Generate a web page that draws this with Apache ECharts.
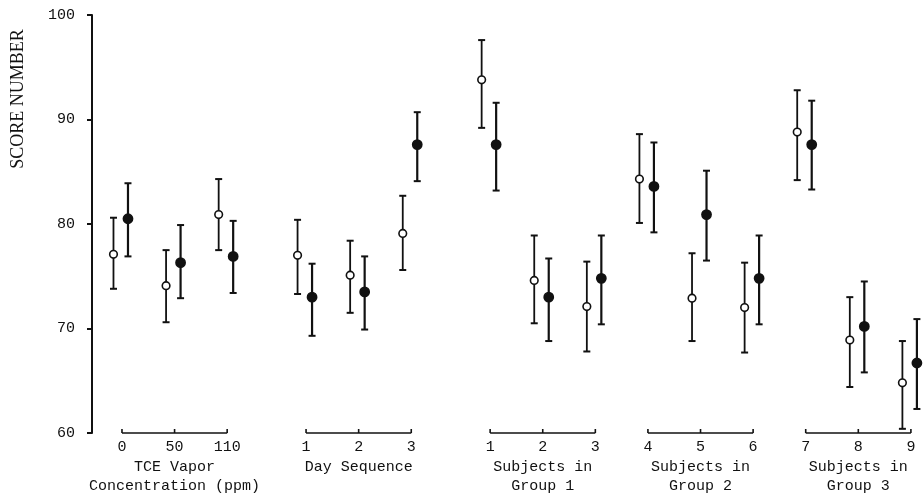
<!DOCTYPE html>
<html>
<head>
<meta charset="utf-8">
<script src="https://cdn.jsdelivr.net/npm/echarts@6/dist/echarts.min.js"></script>
<style>
html,body{margin:0;padding:0;background:#fff;}
#chart{width:923px;height:497px;}
</style>
</head>
<body>
<div id="chart"></div>
<script>
// ---- data ----
const groupTitles = [
  ["TCE Vapor", "Concentration (ppm)"],
  ["Day Sequence"],
  ["Subjects in", "Group 1"],
  ["Subjects in", "Group 2"],
  ["Subjects in", "Group 3"]
];
const tickLabels = [
  ["0", "50", "110"],
  ["1", "2", "3"],
  ["1", "2", "3"],
  ["4", "5", "6"],
  ["7", "8", "9"]
];
// x value of the first category of each group (half-slot units), categories 2 units apart
const groupStart = [0, 7, 14, 20, 26];
const yTicks = [60, 70, 80, 90, 100];

const openMean = [77.1, 74.1, 80.9, 77.0, 75.1, 79.1, 93.8, 74.6, 72.1, 84.3, 72.9, 72.0, 88.8, 68.9, 64.8];
const openLow  = [73.8, 70.6, 77.5, 73.3, 71.5, 75.6, 89.2, 70.5, 67.8, 80.1, 68.8, 67.7, 84.2, 64.4, 60.4];
const openHigh = [80.6, 77.5, 84.3, 80.4, 78.4, 82.7, 97.6, 78.9, 76.4, 88.6, 77.2, 76.3, 92.8, 73.0, 68.8];

const filledMean = [80.5, 76.3, 76.9, 73.0, 73.5, 87.6, 87.6, 73.0, 74.8, 83.6, 80.9, 74.8, 87.6, 70.2, 66.7];
const filledLow  = [76.9, 72.9, 73.4, 69.3, 69.9, 84.1, 83.2, 68.8, 70.4, 79.2, 76.5, 70.4, 83.3, 65.8, 62.3];
const filledHigh = [83.9, 79.9, 80.3, 76.2, 76.9, 90.7, 91.6, 76.7, 78.9, 87.8, 85.1, 78.9, 91.8, 74.5, 70.9];

// ---- build ----
const catX = [];
groupStart.forEach((s, g) => tickLabels[g].forEach((_, i) => catX.push(s + 2 * i)));

const openData = catX.map((x, i) => [x, openMean[i], openLow[i], openHigh[i]]);
const filledData = catX.map((x, i) => [x, filledMean[i], filledLow[i], filledHigh[i]]);
const bracketData = groupStart.map((s, g) => [s, s + 2 * (tickLabels[g].length - 1), g]);

const INK = '#111';
const MONO = '"Liberation Mono", "DejaVu Sans Mono", monospace';

function errRender(offset, filled) {
  return function (params, api) {
    const x0 = api.value(0);
    const c = api.coord([x0, api.value(1)]);
    const lo = api.coord([x0, api.value(2)]);
    const hi = api.coord([x0, api.value(3)]);
    const x = c[0] + offset;
    const cap = 3.5;
    const lw = filled ? 2.2 : 1.8;
    return {
      type: 'group',
      children: [
        { type: 'line', shape: { x1: x, y1: hi[1], x2: x, y2: lo[1] }, style: { stroke: INK, lineWidth: lw } },
        { type: 'line', shape: { x1: x - cap, y1: hi[1], x2: x + cap, y2: hi[1] }, style: { stroke: INK, lineWidth: 2 } },
        { type: 'line', shape: { x1: x - cap, y1: lo[1], x2: x + cap, y2: lo[1] }, style: { stroke: INK, lineWidth: 2 } },
        { type: 'circle', shape: { cx: x, cy: c[1], r: filled ? 4.6 : 3.8 },
          style: { fill: filled ? INK : '#fff', stroke: INK, lineWidth: 1.6 } }
      ]
    };
  };
}

function bracketRender(params, api) {
  const a = api.value(0), b = api.value(1), g = api.value(2);
  const p0 = api.coord([a, 60]);
  const p1 = api.coord([b, 60]);
  const y = p0[1];
  const children = [
    { type: 'line', shape: { x1: p0[0], y1: y, x2: p1[0], y2: y }, style: { stroke: INK, lineWidth: 1.6 } }
  ];
  tickLabels[g].forEach((lab, i) => {
    const px = api.coord([a + 2 * i, 60])[0];
    children.push({ type: 'line', shape: { x1: px, y1: y, x2: px, y2: y - 4 }, style: { stroke: INK, lineWidth: 1.6 } });
    children.push({ type: 'text', style: { text: lab, x: px, y: y + 14, align: 'center', verticalAlign: 'middle',
      fill: INK, fontSize: 15, fontFamily: MONO } });
  });
  const cx = (p0[0] + p1[0]) / 2;
  groupTitles[g].forEach((t, j) => {
    children.push({ type: 'text', style: { text: t, x: cx, y: y + 34 + 19.5 * j, align: 'center', verticalAlign: 'middle',
      fill: INK, fontSize: 15, fontFamily: MONO } });
  });
  return { type: 'group', children };
}

const chart = echarts.init(document.getElementById('chart'), null, { renderer: 'canvas' });
chart.setOption({
  backgroundColor: '#fff',
  animation: false,
  grid: { left: 92, right: 0, top: 15, bottom: 64 },
  xAxis: {
    type: 'value', min: -1.14, max: 30.46,
    show: false
  },
  yAxis: {
    type: 'value', min: yTicks[0], max: yTicks[yTicks.length - 1], interval: 10,
    axisLine: { show: true, onZero: false, lineStyle: { color: INK, width: 2 } },
    axisTick: { show: true, length: 5, lineStyle: { color: INK, width: 2 } },
    axisLabel: { color: INK, fontSize: 15, fontFamily: MONO, margin: 17 },
    splitLine: { show: false }
  },
  graphic: [{
    type: 'text', x: 18, y: 99, rotation: Math.PI / 2,
    style: { text: 'SCORE NUMBER', align: 'center', verticalAlign: 'middle', fill: INK,
      fontSize: 18, fontFamily: '"Liberation Serif", "DejaVu Serif", serif' }
  }],
  series: [
    { type: 'custom', name: 'brackets', data: bracketData, renderItem: bracketRender, silent: true, clip: false },
    { type: 'custom', name: 'open', data: openData, renderItem: errRender(-8.5, false), clip: false },
    { type: 'custom', name: 'filled', data: filledData, renderItem: errRender(6, true), clip: false }
  ]
});
</script>
</body>
</html>
